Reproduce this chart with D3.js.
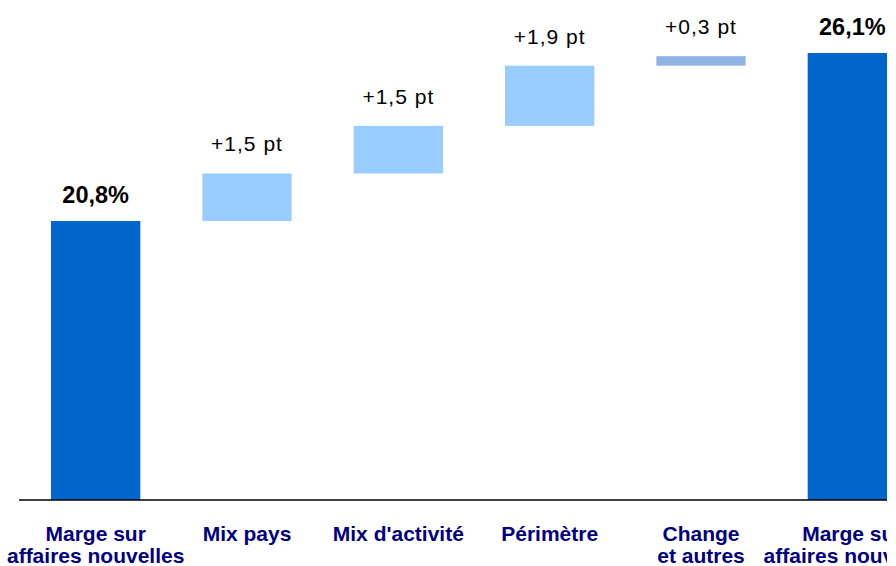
<!DOCTYPE html>
<html>
<head>
<meta charset="utf-8">
<script src="https://cdn.jsdelivr.net/npm/d3@7"></script>
<style>
body { margin: 0; background: #fff; }
.cat { font-family: 'Liberation Sans', Arial, sans-serif; font-weight: bold; font-size: 21px; fill: #000080; }
.total-label { font-family: 'Liberation Sans', Arial, sans-serif; font-weight: bold; font-size: 23.5px; fill: #000; }
.delta-label { font-family: 'Liberation Sans', Arial, sans-serif; font-size: 21px; letter-spacing: 1px; fill: #000; }
</style>
</head>
<body>
<div id="chart"></div>
<script>
let categories = [['Marge sur', 'affaires nouvelles'], ['Mix pays'], ["Mix d'activité"], ['Périmètre'], ['Change', 'et autres'], ['Marge sur', 'affaires nouvelles']]
let values = [20.8, 1.5, 1.5, 1.9, 0.3, 26.1]
let kinds = ['total', 'delta', 'delta', 'delta', 'delta', 'total']
let labels = ['20,8%', '+1,5 pt', '+1,5 pt', '+1,9 pt', '+0,3 pt', '26,1%']
let yMin = 12

let width = 896, height = 566
let margin = { left: 20, right: 0, top: 53, bottom: 66 }

let svg = d3.select('#chart')
.append('svg')
.attr('width', width)
.attr('height', height)

// the reference is cut a few pixels before the right edge
svg.append('clipPath')
.attr('id', 'clip')
.append('rect')
.attr('width', 887)
.attr('height', height)

let g = svg.append('g').attr('clip-path', 'url(#clip)')

// waterfall steps
let running = 0
let bars = values.map((v, i) => {
	let item = { i, kind: kinds[i], label: labels[i] }
	if (kinds[i] == 'total') {
		item.y0 = yMin
		item.y1 = v
		running = v
	} else {
		item.y0 = running
		item.y1 = running + v
		running += v
	}
	return item
})

let x = d3.scaleBand()
.domain(d3.range(categories.length))
.range([margin.left, 928])
.paddingInner(0.41)
.paddingOuter(0.205)

let y = d3.scaleLinear()
.domain([yMin, d3.max(values)])
.range([height - margin.bottom, margin.top])

g.selectAll('.bar')
.data(bars)
.join('rect')
.attr('class', 'bar')
.attr('x', d => x(d.i))
.attr('width', x.bandwidth())
.attr('y', d => y(d.y1))
.attr('height', d => y(d.y0) - y(d.y1))
.attr('fill', d => d.kind == 'total' ? '#0066cc' : (d.i == 4 ? '#8fb4e3' : '#99ccff'))

g.selectAll('.value')
.data(bars)
.join('text')
.attr('class', d => d.kind == 'total' ? 'total-label' : 'delta-label')
.attr('x', d => x(d.i) + x.bandwidth() / 2)
.attr('y', d => y(d.y1) - (d.kind == 'total' ? 18 : 22))
.attr('text-anchor', 'middle')
.text(d => d.label)

g.append('line')
.attr('x1', 19)
.attr('x2', width)
.attr('y1', y(yMin))
.attr('y2', y(yMin))
.attr('stroke', '#000')
.attr('stroke-width', 1.5)

let cats = g.selectAll('.cat')
.data(categories)
.join('text')
.attr('class', 'cat')
.attr('text-anchor', 'middle')
.attr('x', (d, i) => x(i) + x.bandwidth() / 2)
.attr('y', y(yMin) + 41)

cats.selectAll('tspan')
.data(d => d)
.join('tspan')
.attr('x', function() { return this.parentNode.getAttribute('x') })
.attr('dy', (d, i) => i == 0 ? 0 : 22)
.text(d => d)
</script>
</body>
</html>
